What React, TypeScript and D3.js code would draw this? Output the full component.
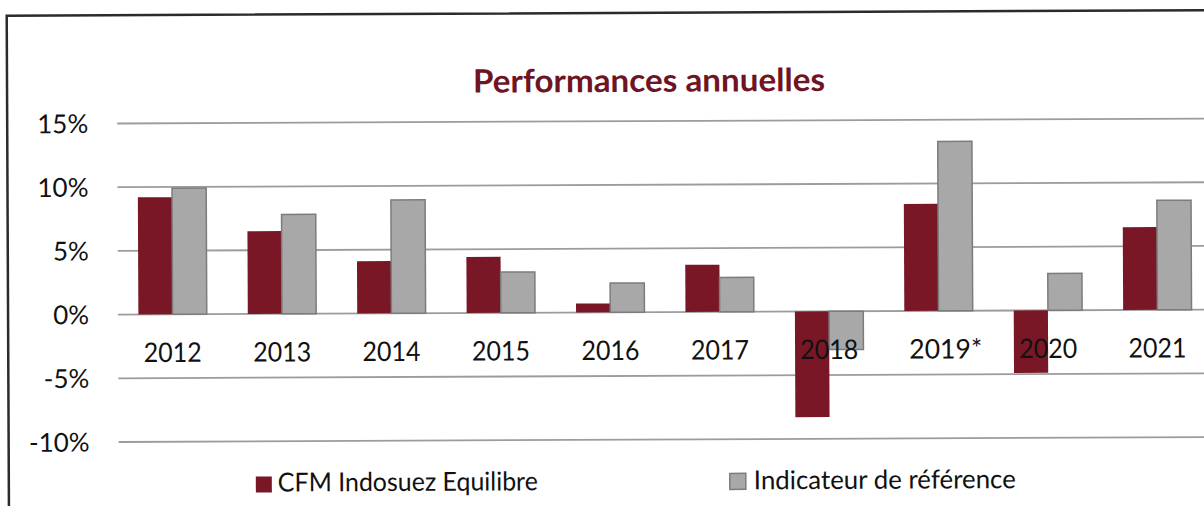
import React from 'react';
import * as d3 from 'd3';

// chart data
const years = ['2012', '2013', '2014', '2015', '2016', '2017', '2018', '2019*', '2020', '2021'];
const fundValues = [9.2, 6.5, 4.1, 4.4, 0.7, 3.7, -8.3, 8.4, -4.9, 6.5];
const benchmarkValues = [9.9, 7.8, 8.9, 3.2, 2.3, 2.7, -3.0, 13.3, 2.9, 8.6];
const yTicks = [-10, -5, 0, 5, 10, 15];
const seriesNames = ['CFM Indosuez Equilibre', 'Indicateur de référence'];
const title = 'Performances annuelles';

const RED = '#7a1726';
const GREY = '#a8a8a8';
const FONT = 'Lato, "Open Sans", sans-serif';

const App = () => {
  const width = 1204;
  const height = 506;

  // band scale for the years, inner scale for the two series
  const x0 = d3.scaleBand<string>()
    .domain(years)
    .range([117.8, 1212])
    .paddingInner(0.375)
    .paddingOuter(0.1875);
  const x1 = d3.scaleBand<string>()
    .domain(['fund', 'bench'])
    .range([0, x0.bandwidth()]);
  const y = d3.scaleLinear().domain([-10, 15]).range([439.8, 121.3]);

  const rows = years.map((yr, i) => ({ yr, fund: fundValues[i], bench: benchmarkValues[i] }));

  return (
    <svg
      width={width}
      height={height}
      style={{ position: 'absolute', left: 0, top: 0, background: '#fff' }}
    >
      {/* the scan is tilted a little */}
      <g transform="rotate(-0.26, 600, 300)">
        <rect x={8} y={13} width={1240} height={520} fill="none" stroke="#2b2b2b" strokeWidth={2.5} />

        <text
          x={650}
          y={92}
          textAnchor="middle"
          fontFamily={FONT}
          fontWeight="bold"
          fontSize={32}
          fill="#6e1423"
          textLength={352}
          lengthAdjust="spacingAndGlyphs"
        >
          {title}
        </text>

        {/* gridlines + y labels */}
        {yTicks.map((t) => (
          <g key={t}>
            <line x1={118} x2={1215} y1={y(t)} y2={y(t)} stroke="#9c9c9c" strokeWidth={1.8} />
            <text
              x={89}
              y={y(t)}
              dy="0.36em"
              textAnchor="end"
              fontFamily={FONT}
              fontSize={26}
              fill="#111"
            >
              {`${t}%`}
            </text>
          </g>
        ))}

        {/* bars */}
        {rows.map((d) => (
          <g key={d.yr} transform={`translate(${x0(d.yr)},0)`}>
            <rect
              x={x1('fund')}
              y={y(Math.max(0, d.fund))}
              width={x1.bandwidth()}
              height={Math.abs(y(d.fund) - y(0))}
              fill={RED}
            />
            <rect
              x={x1('bench')}
              y={y(Math.max(0, d.bench))}
              width={x1.bandwidth()}
              height={Math.abs(y(d.bench) - y(0))}
              fill={GREY}
              stroke="#7c7c7c"
              strokeWidth={1.5}
            />
          </g>
        ))}

        {/* category labels sit next to the zero line */}
        {years.map((yr) => (
          <text
            key={yr}
            x={(x0(yr) ?? 0) + x0.bandwidth() / 2 + (yr.endsWith('*') ? 7 : 0)}
            y={360}
            textAnchor="middle"
            fontFamily={FONT}
            fontSize={27}
            fill="#111"
            textLength={yr.endsWith('*') ? 73 : 58}
            lengthAdjust="spacingAndGlyphs"
          >
            {yr}
          </text>
        ))}

        {/* legend */}
        <rect x={255} y={475} width={16} height={16} fill={RED} />
        <text x={277} y={490} fontFamily={FONT} fontSize={26} fill="#111" textLength={260} lengthAdjust="spacingAndGlyphs">
          {seriesNames[0]}
        </text>
        <rect x={729} y={474} width={16} height={16} fill={GREY} stroke="#7c7c7c" strokeWidth={1.5} />
        <text x={753} y={490} fontFamily={FONT} fontSize={26} fill="#111" textLength={262} lengthAdjust="spacingAndGlyphs">
          {seriesNames[1]}
        </text>
      </g>
    </svg>
  );
};

export default App;
